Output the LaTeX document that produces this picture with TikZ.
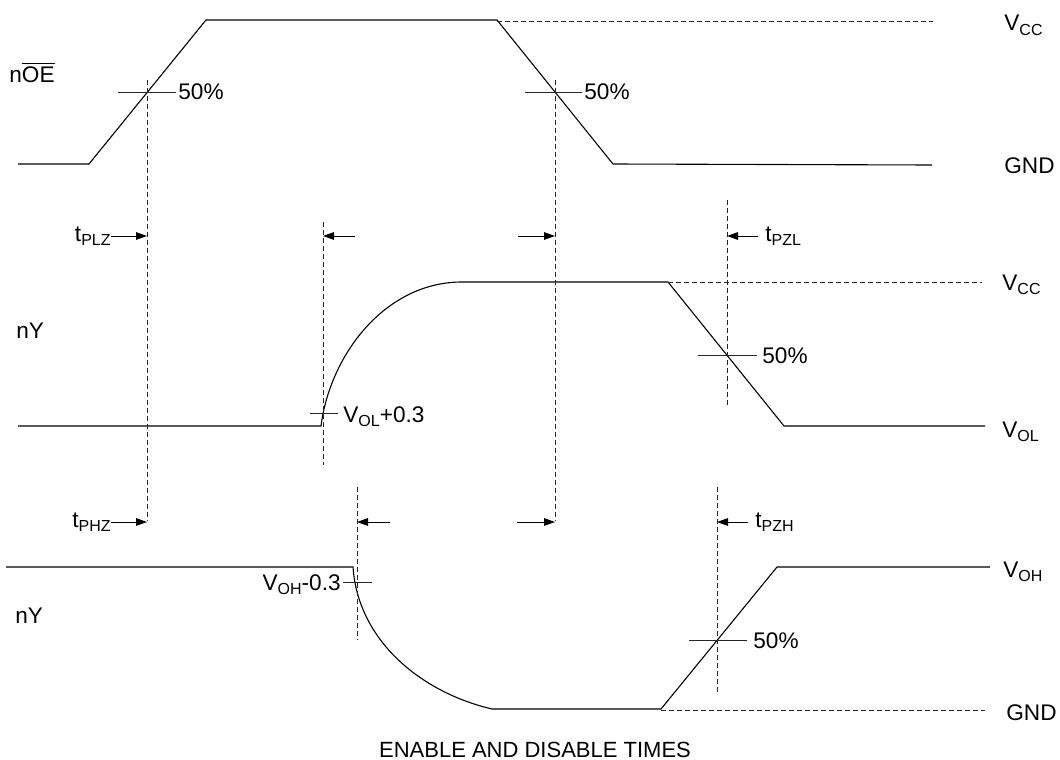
\documentclass[tikz,border=0pt]{standalone}
\usepackage{fontspec}
\setmainfont{Liberation Sans}
\usetikzlibrary{arrows.meta}

\newcommand{\sbs}[1]{\raisebox{-0.35ex}{\fontsize{8}{9}\selectfont #1}}

\begin{document}
\begin{tikzpicture}[
  x=0.5pt, y=-0.5pt,
  wave/.style={line width=0.55pt},
  guide/.style={line width=0.5pt,black!85,dash pattern=on 2.5pt off 1.5pt},
  tick/.style={line width=0.5pt,black!85},
  arr/.style={-{Triangle[length=5.5pt,width=3.8pt]},line width=0.5pt},
  lbl/.style={font=\fontsize{11.3}{13}\selectfont,inner sep=0pt,anchor=base west},
]
\useasboundingbox (0,0) rectangle (1060,760);

\node[lbl] (oe)  at (9,82)   {n$\overline{\mbox{OE}}$};
\node[lbl] (ny1) at (16,338) {nY};
\node[lbl] (ny2) at (15,623) {nY};

\node[lbl] (vcc1) at (1004,31)  {V\sbs{CC}};
\node[lbl] (gnd1) at (1004,173) {GND};
\node[lbl] (vcc2) at (1002,290) {V\sbs{CC}};
\node[lbl] (vol)  at (1002,437) {V\sbs{OL}};
\node[lbl] (voh)  at (1003,577) {V\sbs{OH}};
\node[lbl] (gnd2) at (1006,720) {GND};

\draw[wave] (18,164) -- (89,164) -- (206,20) -- (497,20) -- (613,164) -- (932,165);
\draw[guide] (497,21) -- (933,21);
\draw[wave] (18,426) -- (321,426) .. controls (330,355) and (385,282) .. (462,282)
  -- (668,282) -- (784,426) -- (985,426);
\draw[guide] (668,282) -- (982,282);
\draw[wave] (6,567) -- (353,567) .. controls (358,640) and (420,692) .. (492,709)
  -- (661,709) -- (777,567) -- (990,567);
\draw[guide] (661,710) -- (985,710);

\draw[tick] (118,92) -- (176,92);   \node[lbl] (p1) at (178,99)  {50\%};
\draw[tick] (525,92) -- (582,92);   \node[lbl] (p2) at (584,99)  {50\%};
\draw[tick] (698,355) -- (757,355); \node[lbl] (p3) at (762,363) {50\%};
\draw[tick] (689,640) -- (747,640); \node[lbl] (p4) at (753,648) {50\%};
\draw[tick] (310,413) -- (338,413); \node[lbl] (vol3) at (343,422) {V\sbs{OL}+0.3};
\draw[tick] (343,582) -- (372,582); \node[lbl,anchor=base east] (voh3) at (341,590) {V\sbs{OH}-0.3};

\draw[guide] (147,80) -- (147,521);
\draw[guide] (555,80) -- (555,521);
\draw[guide] (323,222) -- (323,465);
\draw[guide] (727,200) -- (727,408);
\draw[guide] (357,487) -- (357,640);
\draw[guide] (717,487) -- (717,693);

\node[lbl,anchor=east] (tplz) at (111,236) {t\sbs{PLZ}};
\draw[arr] (tplz.east) -- (147,236);
\coordinate (a2) at (355,236); \draw[arr] (a2) -- (323,236);
\coordinate (a3) at (518,236); \draw[arr] (a3) -- (555,236);
\node[lbl,anchor=west] (tpzl) at (765,236) {t\sbs{PZL}};
\draw[arr] ([xshift=-3.5pt]tpzl.west) -- (727,236);

\node[lbl,anchor=east] (tphz) at (111,522) {t\sbs{PHZ}};
\draw[arr] (tphz.east) -- (147,522);
\coordinate (b2) at (390,522); \draw[arr] (b2) -- (357,522);
\coordinate (b3) at (517,522); \draw[arr] (b3) -- (555,522);
\node[lbl,anchor=west] (tpzh) at (755,522) {t\sbs{PZH}};
\draw[arr] ([xshift=-3.5pt]tpzh.west) -- (717,522);

\node[lbl,font=\fontsize{11}{13}\selectfont,anchor=base] (title) at (535,757) {ENABLE AND DISABLE TIMES};
\end{tikzpicture}
\end{document}
